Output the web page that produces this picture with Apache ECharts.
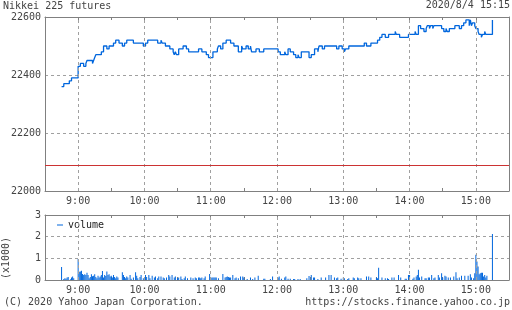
<!DOCTYPE html>
<html><head><meta charset="utf-8">
<script src="https://cdn.jsdelivr.net/npm/echarts@6/dist/echarts.min.js"></script>
<style>html,body{margin:0;padding:0;background:#fff}#c{width:512px;height:310px}</style>
</head><body><div id="c"></div>
<script>
const priceTimes = ['8:45','8:47','8:52','8:54','9:00','9:02','9:05','9:07','9:08','9:13','9:14','9:15','9:16','9:21','9:23','9:26','9:28','9:32','9:34','9:37','9:40','9:42','9:44','9:50','9:59','10:01','10:03','10:12','10:15','10:16','10:19','10:23','10:26','10:27','10:28','10:29','10:31','10:35','10:38','10:40','10:49','10:52','10:56','10:58','11:02','11:06','11:07','11:09','11:11','11:14','11:18','11:21','11:25','11:28','11:29','11:32','11:34','11:36','11:37','11:41','11:44','11:48','12:01','12:03','12:07','12:08','12:10','12:12','12:15','12:17','12:19','12:20','12:22','12:29','12:31','12:34','12:37','12:38','12:41','12:43','12:54','12:56','12:59','13:01','13:02','13:05','13:19','13:21','13:25','13:31','13:33','13:35','13:38','13:41','13:47','13:48','13:51','13:59','14:05','14:06','14:08','14:10','14:13','14:15','14:16','14:18','14:19','14:21','14:22','14:29','14:31','14:33','14:34','14:36','14:41','14:45','14:47','14:49','14:51','14:54','14:55','14:56','14:57','14:59','15:00','15:02','15:03','15:05','15:06','15:08','15:09','15:15'];
const priceValues = [22360,22370,22380,22390,22430,22440,22430,22440,22450,22440,22450,22460,22470,22480,22500,22490,22500,22510,22520,22510,22500,22510,22520,22510,22500,22510,22520,22510,22520,22510,22500,22490,22480,22470,22480,22470,22490,22500,22490,22480,22490,22480,22470,22460,22480,22490,22500,22490,22510,22520,22510,22500,22480,22500,22490,22500,22490,22500,22480,22490,22480,22490,22480,22470,22480,22470,22490,22480,22470,22460,22470,22460,22480,22460,22470,22490,22480,22500,22490,22500,22490,22500,22490,22480,22490,22500,22510,22500,22510,22520,22530,22540,22530,22540,22550,22540,22530,22540,22550,22540,22570,22560,22550,22560,22570,22560,22570,22560,22570,22560,22550,22560,22550,22560,22570,22560,22570,22580,22590,22570,22590,22570,22580,22570,22560,22550,22540,22530,22540,22550,22540,22590];
const volTimes = ['8:45','8:47','8:48','8:49','8:50','8:51','8:53','8:54','8:55','8:56','9:00','9:01','9:02','9:03','9:04','9:05','9:06','9:07','9:08','9:09','9:10','9:11','9:12','9:13','9:14','9:15','9:16','9:17','9:18','9:19','9:20','9:21','9:22','9:23','9:24','9:25','9:26','9:27','9:28','9:29','9:30','9:31','9:32','9:33','9:34','9:35','9:36','9:40','9:41','9:42','9:43','9:44','9:45','9:47','9:48','9:50','9:52','9:53','9:54','9:56','9:57','9:59','10:01','10:02','10:04','10:05','10:07','10:09','10:10','10:12','10:13','10:15','10:17','10:18','10:20','10:22','10:23','10:25','10:27','10:28','10:30','10:31','10:33','10:34','10:36','10:37','10:39','10:42','10:44','10:46','10:47','10:49','10:50','10:51','10:52','10:54','10:55','10:59','11:01','11:02','11:03','11:04','11:05','11:07','11:11','11:13','11:14','11:15','11:16','11:17','11:18','11:20','11:22','11:23','11:25','11:27','11:29','11:30','11:33','11:36','11:38','11:40','11:43','11:48','11:49','11:54','11:56','12:01','12:02','12:04','12:07','12:08','12:10','12:12','12:15','12:16','12:19','12:21','12:27','12:29','12:31','12:33','12:34','12:37','12:40','12:44','12:47','12:49','12:52','12:54','12:55','12:58','13:00','13:01','13:04','13:05','13:09','13:10','13:13','13:14','13:16','13:21','13:23','13:25','13:30','13:31','13:32','13:35','13:38','13:40','13:41','13:44','13:46','13:50','13:52','13:56','13:57','13:59','14:00','14:03','14:04','14:06','14:07','14:08','14:09','14:11','14:14','14:15','14:17','14:18','14:20','14:22','14:23','14:26','14:27','14:29','14:30','14:32','14:33','14:35','14:37','14:40','14:42','14:43','14:45','14:47','14:50','14:53','14:55','14:56','14:58','14:59','15:00','15:01','15:02','15:03','15:04','15:05','15:06','15:07','15:08','15:09','15:10','15:15'];
const volValues = [0.60,0.05,0.08,0.06,0.11,0.14,0.03,0.12,0.16,0.08,0.97,0.38,0.39,0.43,0.28,0.23,0.26,0.23,0.34,0.23,0.08,0.14,0.26,0.17,0.20,0.26,0.14,0.08,0.20,0.11,0.16,0.23,0.42,0.12,0.23,0.19,0.39,0.23,0.26,0.16,0.20,0.12,0.23,0.14,0.08,0.16,0.11,0.36,0.23,0.14,0.08,0.16,0.11,0.23,0.06,0.11,0.36,0.20,0.08,0.14,0.23,0.08,0.23,0.14,0.23,0.08,0.20,0.11,0.16,0.08,0.16,0.16,0.11,0.08,0.11,0.23,0.16,0.23,0.12,0.16,0.08,0.12,0.16,0.05,0.08,0.16,0.08,0.12,0.08,0.12,0.08,0.12,0.11,0.08,0.12,0.08,0.16,0.28,0.11,0.11,0.11,0.11,0.11,0.08,0.28,0.12,0.14,0.16,0.14,0.12,0.11,0.23,0.08,0.11,0.08,0.16,0.16,0.11,0.05,0.11,0.05,0.11,0.20,0.06,0.06,0.05,0.16,0.11,0.16,0.06,0.11,0.16,0.06,0.06,0.05,0.05,0.05,0.05,0.08,0.19,0.23,0.11,0.11,0.05,0.11,0.11,0.23,0.23,0.11,0.08,0.11,0.06,0.11,0.08,0.05,0.08,0.11,0.08,0.12,0.08,0.08,0.16,0.16,0.11,0.12,0.08,0.57,0.12,0.08,0.08,0.05,0.11,0.11,0.23,0.12,0.06,0.06,0.23,0.23,0.06,0.12,0.16,0.23,0.47,0.11,0.16,0.08,0.08,0.11,0.11,0.23,0.08,0.11,0.23,0.11,0.31,0.11,0.20,0.16,0.11,0.11,0.16,0.36,0.08,0.11,0.20,0.20,0.20,0.26,0.11,0.08,0.31,1.16,0.85,0.62,0.26,0.31,0.34,0.34,0.16,0.23,0.11,0.20,2.12];
const hourLines = ['9:00','10:00','11:00','12:00','13:00','14:00','15:00'];
const prevClose = 22090;
const priceTicks = [22000, 22200, 22400, 22600];
const volTicks = [0, 1, 2, 3];

function tm(s){ const p = s.split(':'); return (+p[0])*60 + (+p[1]); }
const FONT = 'DejaVu Sans Mono';
const TXT = '#444';
const FRAME = '#808080';
const GRIDC = '#a0a0a0';
const BLUE = '#0066dd';
const XMIN = tm('8:30'), XMAX = tm('15:30');

const priceData = priceTimes.map((t,i)=>[tm(t), priceValues[i]]);
const volData = volTimes.map((t,i)=>[tm(t), volValues[i]]);
const hourMarks = hourLines.map(h=>({xAxis: tm(h)}));

function xAx(grid, pos, labels){
  return {type:'value', gridIndex:grid, position:pos, min:XMIN, max:XMAX, interval:30,
    axisLine:{show:true, onZero:false, lineStyle:{color:FRAME, width:1}},
    axisTick:{show:true, inside:true, length:3, lineStyle:{color:FRAME}},
    axisLabel:{show:labels, margin:5, color:TXT, fontFamily:FONT, fontSize:10,
      formatter:v=> (v%60===0 ? Math.floor(v/60)+':00' : '')},
    splitLine:{show:false}};
}
function yAx(grid, pos, min, max, interval, labels){
  return {type:'value', gridIndex:grid, position:pos, min:min, max:max, interval:interval,
    axisLine:{show:true, lineStyle:{color:FRAME, width:1}},
    axisTick:{show:false},
    axisLabel:{show:labels, margin:4, color:TXT, fontFamily:FONT, fontSize:10, formatter:v=>String(v)},
    splitLine:{show:labels, lineStyle:{color:GRIDC, type:[3,3], width:1}}};
}

const chart = echarts.init(document.getElementById('c'), null, {renderer:'canvas'});
chart.setOption({
  animation:false,
  backgroundColor:'#fff',
  grid:[
    {left:45, right:1, top:17, height:174},
    {left:45, right:1, top:215, height:65}
  ],
  xAxis:[xAx(0,'bottom',true), xAx(0,'top',false), xAx(1,'bottom',true), xAx(1,'top',false)],
  yAxis:[yAx(0,'left',priceTicks[0],priceTicks[3],200,true), yAx(0,'right',priceTicks[0],priceTicks[3],200,false),
         yAx(1,'left',volTicks[0],volTicks[3],1,true), yAx(1,'right',volTicks[0],volTicks[3],1,false)],
  legend:{show:true, data:['volume'], left:57, top:219, padding:0, icon:'rect', itemWidth:6, itemHeight:1, itemGap:5,
    textStyle:{color:'#222', fontFamily:FONT, fontSize:10, lineHeight:12}},
  series:[
    {type:'line', name:'price', xAxisIndex:0, yAxisIndex:0, data:priceData, step:'end', showSymbol:false, symbol:'none',
      lineStyle:{color:BLUE, width:1.3}, itemStyle:{color:BLUE},
      markLine:{silent:true, symbol:'none', label:{show:false}, animation:false,
        lineStyle:{color:GRIDC, type:[3,3], width:1},
        data: hourMarks.concat([{yAxis:prevClose, lineStyle:{color:'#cc3333', type:'solid', width:1}}])}},
    {type:'bar', name:'volume', xAxisIndex:2, yAxisIndex:2, data:volData, barWidth:1,
      itemStyle:{color:BLUE},
      markLine:{silent:true, symbol:'none', label:{show:false}, animation:false,
        lineStyle:{color:GRIDC, type:[3,3], width:1}, data: hourMarks}}
  ],
  graphic:[
    {type:'text', style:{text:'Nikkei 225 futures', x:3, y:6.5, font:'10px '+FONT, fill:TXT, textAlign:'left', align:'left', textVerticalAlign:'middle', verticalAlign:'middle'}},
    {type:'text', style:{text:'2020/8/4 15:15', x:510, y:5.5, font:'10px '+FONT, fill:TXT, textAlign:'right', align:'right', textVerticalAlign:'middle', verticalAlign:'middle'}},
    {type:'text', style:{text:'(C) 2020 Yahoo Japan Corporation.', x:4, y:302, font:'10px '+FONT, fill:TXT, textAlign:'left', align:'left', textVerticalAlign:'middle', verticalAlign:'middle'}},
    {type:'text', style:{text:'https://stocks.finance.yahoo.co.jp', x:510, y:302, font:'10px '+FONT, fill:TXT, textAlign:'right', align:'right', textVerticalAlign:'middle', verticalAlign:'middle'}},
    {type:'text', x:6.5, y:258, rotation:Math.PI/2, style:{text:'(x1000)', x:0, y:0, font:'10px '+FONT, fill:TXT, textAlign:'center', align:'center', textVerticalAlign:'middle', verticalAlign:'middle'}}
  ]
});
</script></body></html>
